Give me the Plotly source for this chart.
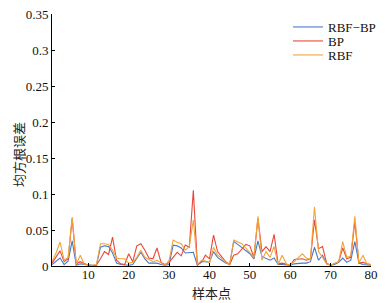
import plotly.graph_objects as go

x = list(range(1, 81))

rbf_bp = [0.002, 0.006, 0.011, 0.002, 0.007, 0.035, 0.001, 0.003, 0.002, 0.001,
          0.001, 0.001, 0.026, 0.028, 0.027, 0.018, 0.004, 0.002, 0.001, 0.001,
          0.002, 0.010, 0.019, 0.010, 0.004, 0.004, 0.004, 0.002, 0.001, 0.002,
          0.029, 0.028, 0.025, 0.018, 0.019, 0.019, 0.001, 0.006, 0.006, 0.005,
          0.020, 0.012, 0.008, 0.004, 0.002, 0.034, 0.030, 0.026, 0.021, 0.017,
          0.010, 0.035, 0.013, 0.010, 0.008, 0.011, 0.002, 0.002, 0.002, 0.001,
          0.003, 0.004, 0.004, 0.004, 0.006, 0.026, 0.008, 0.015, 0.003, 0.001,
          0.002, 0.005, 0.011, 0.005, 0.008, 0.034, 0.004, 0.002, 0.002, 0.001]

bp = [0.004, 0.012, 0.021, 0.006, 0.010, 0.066, 0.003, 0.006, 0.003, 0.001,
      0.0005, 0.001, 0.010, 0.020, 0.016, 0.040, 0.008, 0.003, 0.002, 0.017,
      0.006, 0.028, 0.031, 0.022, 0.011, 0.010, 0.025, 0.005, 0.002, 0.005,
      0.012, 0.019, 0.014, 0.029, 0.026, 0.105, 0.002, 0.005, 0.015, 0.010,
      0.043, 0.020, 0.013, 0.006, 0.002, 0.015, 0.017, 0.024, 0.030, 0.028,
      0.012, 0.066, 0.020, 0.027, 0.020, 0.044, 0.003, 0.004, 0.002, 0.001,
      0.009, 0.010, 0.010, 0.008, 0.010, 0.064, 0.024, 0.027, 0.004, 0.001,
      0.003, 0.006, 0.025, 0.010, 0.012, 0.062, 0.004, 0.005, 0.003, 0.002]

rbf = [0.006, 0.018, 0.033, 0.008, 0.012, 0.068, 0.002, 0.015, 0.002, 0.001,
       0.001, 0.002, 0.031, 0.031, 0.030, 0.022, 0.011, 0.010, 0.010, 0.004,
       0.005, 0.012, 0.022, 0.012, 0.009, 0.006, 0.008, 0.004, 0.001, 0.008,
       0.036, 0.033, 0.031, 0.022, 0.027, 0.064, 0.002, 0.008, 0.007, 0.004,
       0.026, 0.015, 0.011, 0.005, 0.002, 0.036, 0.034, 0.031, 0.025, 0.019,
       0.012, 0.069, 0.008, 0.020, 0.012, 0.027, 0.002, 0.015, 0.003, 0.001,
       0.006, 0.012, 0.017, 0.011, 0.009, 0.082, 0.020, 0.012, 0.003, 0.001,
       0.003, 0.006, 0.034, 0.012, 0.014, 0.069, 0.004, 0.015, 0.003, 0.002]

names = ["RBF\u2212BP", "BP", "RBF"]
colors = ["#4a78c8", "#e8483a", "#f2a33a"]
x_ticks = [10, 20, 30, 40, 50, 60, 70, 80]
y_ticks = [0, 0.05, 0.1, 0.15, 0.2, 0.25, 0.3, 0.35]
y_ticktext = ["0", "0.05", "0.1", "0.15", "0.2", "0.25", "0.3", "0.35"]

W, H = 388, 303
ML, MR, MT, MB = 52, 17, 14, 37
PW, PH = W - ML - MR, H - MT - MB
serif = "Liberation Serif"
cjk = "Noto Sans CJK SC"


def px_to_paper_x(px):
    return (px - ML) / PW


def px_to_paper_y(py):
    return 1 - (py - MT) / PH


fig = go.Figure()
legend_ids = ["legend", "legend2", "legend3"]
legend_centers = [27, 41, 55]
for series, name, color, lid in zip([rbf_bp, bp, rbf], names, colors, legend_ids):
    fig.add_trace(go.Scatter(x=x, y=series, mode="lines", name=name, legend=lid,
                             line=dict(color=color, width=1.1)))

legend_common = dict(xanchor="left", yanchor="middle", bgcolor="rgba(0,0,0,0)",
                     font=dict(family=serif, size=13, color="#111"),
                     itemwidth=30, borderwidth=0)
layout_legends = {}
for lid, cy in zip(legend_ids, legend_centers):
    layout_legends[lid] = dict(x=px_to_paper_x(288), y=px_to_paper_y(cy), **legend_common)

fig.update_layout(
    template="none",
    width=W, height=H,
    margin=dict(l=ML, r=MR, t=MT, b=MB, autoexpand=False),
    paper_bgcolor="white", plot_bgcolor="white",
    font=dict(family=serif, size=13, color="#111"),
    showlegend=True,
    xaxis=dict(range=[1, 80], tickvals=x_ticks, ticks="inside", ticklen=3,
               showline=True, linecolor="black", linewidth=1, showgrid=False,
               zeroline=False, tickcolor="black", automargin=False, mirror=False,
               ticklabelstandoff=-4,
               tickfont=dict(family=serif, size=13, color="#111")),
    yaxis=dict(range=[0, 0.35], tickvals=y_ticks, ticktext=y_ticktext,
               ticks="inside", ticklen=3,
               showline=True, linecolor="black", linewidth=1, showgrid=False,
               zeroline=False, tickcolor="black", automargin=False, mirror=False,
               tickfont=dict(family=serif, size=13, color="#111")),
    annotations=[
        dict(text="均方根误差", x=px_to_paper_x(18), xref="paper", xanchor="center",
             y=px_to_paper_y(155), yref="paper", yanchor="middle", showarrow=False,
             textangle=-90, font=dict(family=cjk, size=13, color="#222")),
        dict(text="样本点", x=px_to_paper_x(212), xref="paper", xanchor="center",
             y=px_to_paper_y(292), yref="paper", yanchor="middle", showarrow=False,
             font=dict(family=cjk, size=13, color="#222")),
    ],
    **layout_legends,
)

fig.write_html(
    "out.html",
    config={"displayModeBar": False},
    post_script="document.body.style.margin='0';document.body.style.overflow='hidden';",
)
